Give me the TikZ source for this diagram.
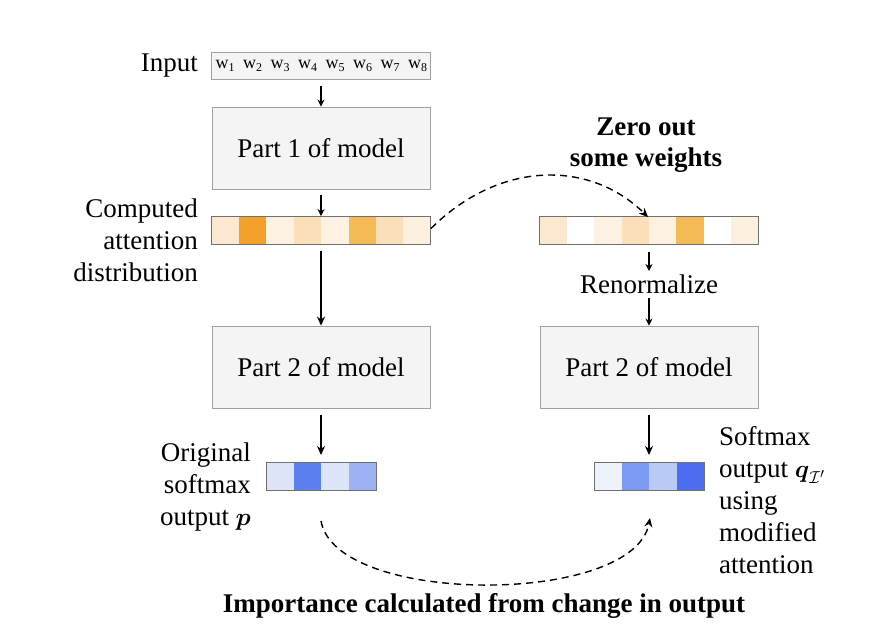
\documentclass[tikz,border=0pt]{standalone}
\usepackage{amsmath}
\usepackage{fontspec}
\setmainfont{Liberation Serif}
\usetikzlibrary{arrows.meta}
\definecolor{boxfill}{HTML}{F4F4F4}
\definecolor{boxline}{HTML}{A0A0A0}
\definecolor{barline}{HTML}{707070}
\definecolor{oA}{HTML}{FCE8D0}
\definecolor{oB}{HTML}{F3A12B}
\definecolor{oC}{HTML}{FDF2E2}
\definecolor{oD}{HTML}{FADFB9}
\definecolor{oE}{HTML}{FDF2E2}
\definecolor{oF}{HTML}{F4BA55}
\definecolor{oG}{HTML}{FADFBB}
\definecolor{oH}{HTML}{FDF0DE}
\definecolor{bA}{HTML}{DCE6F8}
\definecolor{bB}{HTML}{5B81F1}
\definecolor{bC}{HTML}{DCE6F8}
\definecolor{bD}{HTML}{9BB2F5}
\definecolor{cA}{HTML}{EEF2FC}
\definecolor{cB}{HTML}{7D9BF2}
\definecolor{cC}{HTML}{B8CAF6}
\definecolor{cD}{HTML}{4A6EEE}
\tikzset{
  modelbox/.style={draw=boxline, fill=boxfill, line width=0.8pt, minimum width=218pt, minimum height=82pt, inner sep=0pt, font=\fontsize{27}{32}\selectfont},
  lbl/.style={inner sep=0pt, font=\fontsize{27}{32}\selectfont},
  boldlbl/.style={inner sep=0pt, font=\fontsize{27}{31}\selectfont\bfseries, align=center},
  tok/.style={inner sep=0pt, font=\fontsize{18}{20}\selectfont},
  cell/.style={draw=none, inner sep=0pt, minimum height=28pt},
  barframe/.style={draw=barline, line width=0.9pt, fill=none, inner sep=0pt, minimum height=28pt},
  arr/.style={-{Stealth[length=9pt,width=8pt]}, line width=1.4pt},
  sarr/.style={-{Stealth[length=7pt,width=7pt]}, line width=1.2pt},
  darr/.style={-{Stealth[length=9pt,width=8pt]}, line width=1.4pt, dash pattern=on 7pt off 5pt}
}
\newcommand{\wtok}[1]{w\raisebox{-0.3ex}{\fontsize{12}{12}\selectfont #1}}
\begin{document}
\begin{tikzpicture}[x=1pt,y=-1pt]
\useasboundingbox (0,0) rectangle (878,642);

% Input
\node[draw=boxline, fill=boxfill, line width=0.8pt, minimum width=219pt, minimum height=27pt, inner sep=0pt] (inbox) at (321,66) {};
\node[lbl, anchor=east] (inlbl) at (198,66) {Input};
\foreach \i in {1,...,8} {
  \node[tok] (w\i) at ({197.5+27.5*\i},66) {\wtok{\i}};
}

% Part 1
\node[modelbox] (p1) at (321,148) {Part 1 of model};

% Left attention bar
\foreach \c [count=\i] in {oA,oB,oC,oD,oE,oF,oG,oH} {
  \node[cell, fill=\c, minimum width=27.4pt] (la\i) at ({211.6+27.4*(\i-0.5)},230.5) {};
}
\node[barframe, minimum width=219pt] (latt) at (321,230.5) {};
\node[lbl, anchor=east, align=right] (comp) at (198,240) {Computed\\attention\\distribution};

% Right attention bar
\foreach \c [count=\i] in {oA,white,oC,oD,oE,oF,white,oH} {
  \node[cell, fill=\c, minimum width=27.4pt] (ra\i) at ({539.3+27.4*(\i-0.5)},230.5) {};
}
\node[barframe, minimum width=219pt] (ratt) at (649,230.5) {};

\node[boldlbl] (zero) at (646,145) {Zero out\\some weights};
\node[lbl] (renorm) at (649,284) {Renormalize};

% Part 2 boxes
\node[modelbox] (p2l) at (321,367) {Part 2 of model};
\node[modelbox] (p2r) at (649,367) {Part 2 of model};

% Softmax bars
\foreach \c [count=\i] in {bA,bB,bC,bD} {
  \node[cell, fill=\c, minimum width=27.5pt] (lb\i) at ({266+27.5*(\i-0.5)},476.5) {};
}
\node[barframe, minimum width=110pt] (lsoft) at (321,476.5) {};
\foreach \c [count=\i] in {cA,cB,cC,cD} {
  \node[cell, fill=\c, minimum width=27.5pt] (rb\i) at ({594+27.5*(\i-0.5)},476.5) {};
}
\node[barframe, minimum width=110pt] (rsoft) at (649,476.5) {};

\node[lbl, anchor=east, align=right] (orig) at (251,487) {Original\\softmax\\output $\boldsymbol{p}$};
\node[lbl, anchor=west, align=left] (smx) at (719,500) {Softmax\\output $\boldsymbol{q}_{\mathcal{I}'}$\\using\\modified\\attention};

\node[boldlbl] (imp) at (484,606) {Importance calculated from change in output};

% arrows
\draw[sarr] (321,86) -- (p1.north);
\draw[sarr] (p1.south) ++(0,6) -- (latt.north);
\draw[arr] (321,251) -- (p2l.north);
\draw[sarr] (649,252) -- (649,271);
\draw[sarr] (649,298) -- (p2r.north);
\draw[arr] (321,415) -- (321,455);
\draw[arr] (649,415) -- (649,455);

% dashed curves
\coordinate (ztip) at (648,217);
\draw[darr] (latt.east) ++(0,-2) .. controls (500,160) and (590,160) .. (ztip);
\coordinate (bstart) at (321,521);
\coordinate (btip) at (650,518);
\draw[darr] (bstart) .. controls (336,606) and (634,606) .. (btip);
\end{tikzpicture}
\end{document}
